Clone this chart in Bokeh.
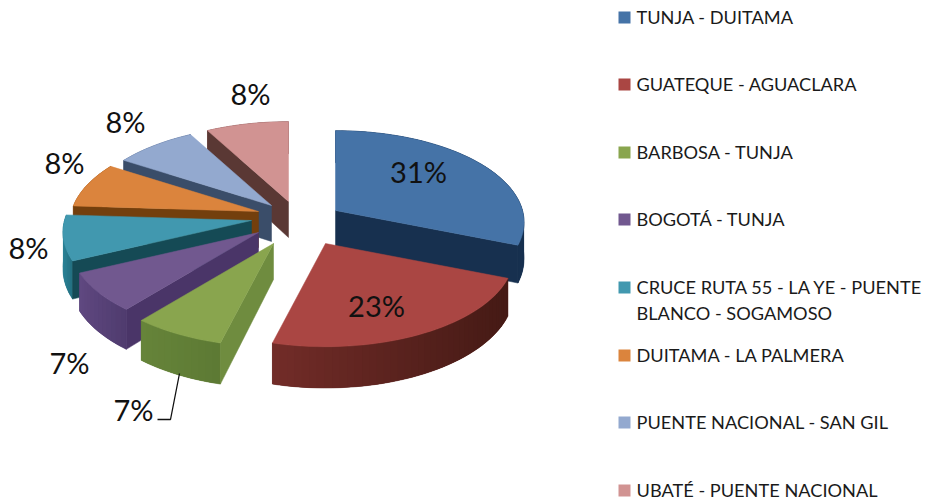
import math
from bokeh.plotting import figure
from bokeh.models import Range1d
from bokeh.core.properties import value
from bokeh.embed import file_html
from bokeh.resources import INLINE

categories = ["TUNJA - DUITAMA", "GUATEQUE - AGUACLARA", "BARBOSA - TUNJA", "BOGOTÁ - TUNJA",
              "CRUCE RUTA 55 - LA YE - PUENTE BLANCO - SOGAMOSO", "DUITAMA - LA PALMERA",
              "PUENTE NACIONAL - SAN GIL", "UBATÉ - PUENTE NACIONAL"]
values = [31, 23, 7, 7, 8, 8, 8, 8]
percent_labels = ["31%", "23%", "7%", "7%", "8%", "8%", "8%", "8%"]

top_colors = ["#4573a7", "#aa4643", "#89a54e", "#71588f", "#4198af", "#db843d", "#93a9cf", "#d19392"]
face_colors = ["#17304f", "#4a1d1a", "#6f8c3f", "#4a3568", "#154a55", "#733f0d", "#3a4d69", "#5a3834"]
side_left = ["#1d3a5e", "#722c28", "#66843a", "#5f4880", "#2a8296", "#a9642a", "#5f7399", "#8a5c5a"]
side_right = ["#17304f", "#451a15", "#5d7a34", "#4f3b6e", "#236f80", "#a05c25", "#56688c", "#7d5250"]

apex = [(335, 210), (325, 243), (273, 243), (258, 232), (251, 220), (258, 211), (271, 205), (288, 201)]
label_pos = [(418, 171), (376, 305), (133, 409), (69, 362), (28, 247), (64, 162), (125, 121), (250, 93)]
draw_order = [7, 6, 5, 4, 3, 2, 0, 1]
RX, RY, K, DEPTH = 187, 90, 0.128, 36

legend_y = [17, 84, 152, 219, 287, 355, 422, 490]
legend_lines = [["TUNJA - DUITAMA"], ["GUATEQUE - AGUACLARA"], ["BARBOSA - TUNJA"], ["BOGOTÁ - TUNJA"],
                ["CRUCE RUTA 55 - LA YE - PUENTE", "BLANCO - SOGAMOSO"], ["DUITAMA - LA PALMERA"],
                ["PUENTE NACIONAL - SAN GIL"], ["UBATÉ - PUENTE NACIONAL"]]

p = figure(width=925, height=500, x_range=Range1d(0, 925), y_range=Range1d(500, 0),
           output_backend="svg", toolbar_location=None, min_border=0)
p.axis.visible = False
p.grid.visible = False
p.outline_line_color = None


def proj(cx, cy, deg):
    a = math.radians(deg)
    u, v = math.sin(a), math.cos(a)
    s = 1 / (1 + K * v)
    return cx + RX * u * s, cy - RY * v * s, DEPTH * s


def mix(c1, c2, t):
    a = [int(c1[i:i + 2], 16) for i in (1, 3, 5)]
    b = [int(c2[i:i + 2], 16) for i in (1, 3, 5)]
    return "#%02x%02x%02x" % tuple(round(x + (y - x) * t) for x, y in zip(a, b))


total = sum(values)
starts = []
acc = 0
for v in values:
    starts.append(acc)
    acc += v

for i in draw_order:
    cx, cy = apex[i]
    a0 = starts[i] / total * 360
    a1 = (starts[i] + values[i]) / total * 360
    n = max(6, int((a1 - a0) / 2))
    angs = [a0 + (a1 - a0) * j / n for j in range(n + 1)]
    pts = [proj(cx, cy, a) for a in angs]
    xs = [q[0] for q in pts]
    ys = [q[1] for q in pts]
    ds = [q[2] for q in pts]
    # outer rim
    mid = mix(side_left[i], side_right[i], 0.5)
    p.patch(xs + xs[::-1], ys + [y + d for y, d in zip(ys[::-1], ds[::-1])],
            fill_color=mid, line_color=mid, line_width=0.5)
    for j in range(n):
        t = (xs[j] + xs[j + 1]) / 2
        f = (t - min(xs)) / (max(xs) - min(xs) or 1)
        c = mix(side_left[i], side_right[i], f)
        k = min(j + 2, n)
        p.patch([xs[j], xs[k], xs[k], xs[j]], [ys[j], ys[k], ys[k] + ds[k], ys[j] + ds[j]],
                fill_color=c, line_color=None)
    # radial cut faces that look towards the viewer
    visible = []
    if math.sin(math.radians(a0)) < -1e-6:
        visible.append(pts[0])
    if math.sin(math.radians(a1)) > 1e-6:
        visible.append(pts[-1])
    for (ex, ey, ed) in visible:
        p.patch([cx, ex, ex, cx], [cy, ey, ey + ed, cy + DEPTH],
                fill_color=face_colors[i], line_color=face_colors[i], line_width=0.5)
    # top
    p.patch([cx] + xs, [cy] + ys, fill_color=top_colors[i], line_color=top_colors[i], line_width=0.5)

p.text([q[0] for q in label_pos], [q[1] for q in label_pos], text=percent_labels, text_font=value("Lato"),
       text_font_size="29px", text_color="#111111", text_align="center", text_baseline="middle")
p.line([179, 170, 157], [373, 419, 419], line_color="#111111", line_width=1.3)

p.scatter([624] * len(legend_y), legend_y, marker="square", size=12, fill_color=top_colors, line_color=None)
for y, lines in zip(legend_y, legend_lines):
    for k, line in enumerate(lines):
        p.text([636], [y - 1 + k * 26], text=[line], text_font=value("Lato"), text_font_size="18.2px",
               text_color="#1a1a1a", text_align="left", text_baseline="middle")

open("out.html", "w").write(file_html(p, INLINE))
